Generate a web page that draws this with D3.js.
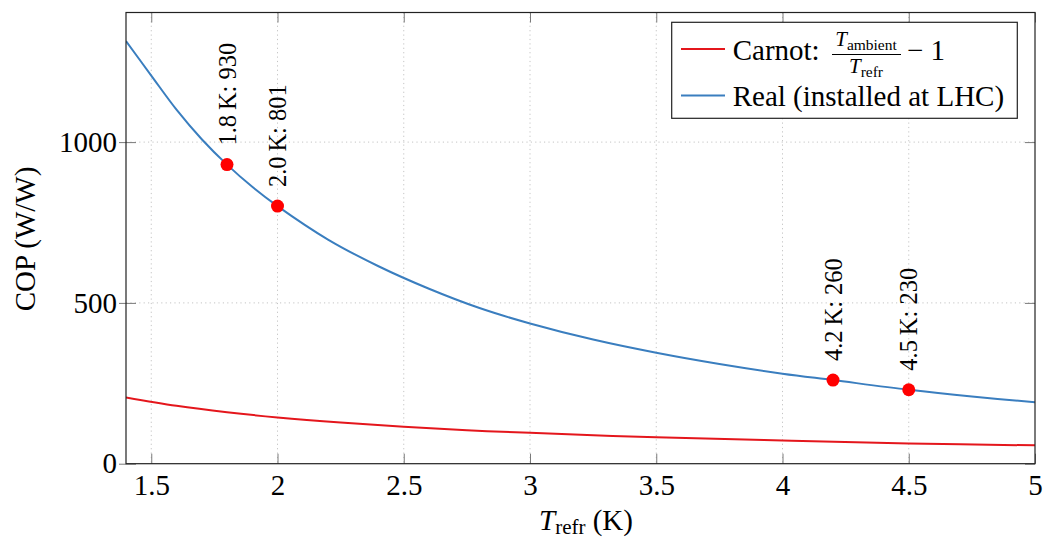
<!DOCTYPE html>
<html>
<head>
<meta charset="utf-8">
<script src="https://cdn.jsdelivr.net/npm/d3@7"></script>
<style>
  html, body { margin: 0; padding: 0; background: #fff; }
  svg, svg text { font-family: "Liberation Serif", "Times New Roman", Times, "DejaVu Serif", serif !important; }
</style>
</head>
<body>
<svg id="chart" width="1043" height="541"></svg>
<script>
// ---- data ----
const xTicks = [1.5, 2, 2.5, 3, 3.5, 4, 4.5, 5];
const yTicks = [0, 500, 1000];

const carnotT   = [1.4, 1.6, 1.8, 2.0, 2.25, 2.5, 2.75, 3.0, 3.5, 4.0, 4.5, 5.0];
const carnotCOP = [206, 180, 160, 144, 128, 115, 104, 96, 82, 72, 63, 57];

const realT   = [1.4, 1.5, 1.6, 1.7, 1.8, 1.9, 2.0, 2.2, 2.4, 2.6, 2.8, 3.0, 3.25, 3.5, 3.75, 4.0, 4.2, 4.5, 4.75, 5.0];
const realCOP = [1314, 1207, 1101, 1009, 930, 861, 801, 697, 614, 544, 484, 436, 386, 345, 310, 280, 260, 230, 209, 191];

const pointT      = [1.8, 2.0, 4.2, 4.5];
const pointCOP    = [930, 801, 260, 230];
const pointLabels = ["1.8\u2009K: 930", "2.0\u2009K: 801", "4.2\u2009K: 260", "4.5\u2009K: 230"];

const seriesNames = ["Carnot: ", "Real (installed at LHC)"];
const seriesColors = ["#e4161c", "#3a7ebf"];

// ---- layout ----
const L = 126, R = 1035, T = 12.5, B = 463.7;
const FS = 29;
const FF = "Liberation Serif, Times New Roman, Times, DejaVu Serif, serif";

const svg = d3.select("#chart");
const x = d3.scaleLinear().domain([1.4, 5]).range([L, R]);
const y = d3.scaleLinear().domain([0, 1403]).range([B, T]);

// grid
const grid = svg.append("g").attr("stroke", "#c4c4c4").attr("stroke-width", 1)
  .attr("stroke-dasharray", "1.2,3.2");
grid.selectAll("line.gx").data(xTicks.filter(d => d < 5)).enter().append("line")
  .attr("x1", d => x(d)).attr("x2", d => x(d)).attr("y1", T).attr("y2", B);
grid.selectAll("line.gy").data(yTicks.filter(d => d > 0)).enter().append("line")
  .attr("x1", L).attr("x2", R).attr("y1", d => y(d)).attr("y2", d => y(d));

// axes
const fmt = d => String(d);
const axB = svg.append("g").attr("transform", `translate(0,${B})`)
  .call(d3.axisBottom(x).tickValues(xTicks).tickFormat(fmt).tickSizeInner(-10).tickSizeOuter(0).tickPadding(11));
const axT = svg.append("g").attr("transform", `translate(0,${T})`)
  .call(d3.axisTop(x).tickValues(xTicks).tickFormat("").tickSizeInner(-10).tickSizeOuter(0));
const axL = svg.append("g").attr("transform", `translate(${L},0)`)
  .call(d3.axisLeft(y).tickValues(yTicks).tickFormat(fmt).tickSizeInner(-10).tickSizeOuter(0).tickPadding(9));
const axR = svg.append("g").attr("transform", `translate(${R},0)`)
  .call(d3.axisRight(y).tickValues(yTicks).tickFormat("").tickSizeInner(-10).tickSizeOuter(0));

[axB, axT, axL, axR].forEach(a => {
  a.attr("font-family", FF);
  a.select(".domain").remove();
  a.selectAll(".tick line").attr("stroke", "#7a7a7a").attr("stroke-width", 1);
  a.selectAll(".tick text").attr("font-family", FF).attr("font-size", FS).attr("fill", "#000");
});
axL.selectAll(".tick line").attr("x1", -7);

// clip
svg.append("clipPath").attr("id", "clip").append("rect")
  .attr("x", L).attr("y", T).attr("width", R - L).attr("height", B - T);

const line = d3.line().curve(d3.curveCatmullRom.alpha(0.5)).x(d => x(d[0])).y(d => y(d[1]));
const plot = svg.append("g").attr("clip-path", "url(#clip)");
plot.append("path").datum(carnotT.map((t, i) => [t, carnotCOP[i]]))
  .attr("d", line).attr("fill", "none").attr("stroke", seriesColors[0]).attr("stroke-width", 2);
plot.append("path").datum(realT.map((t, i) => [t, realCOP[i]]))
  .attr("d", line).attr("fill", "none").attr("stroke", seriesColors[1]).attr("stroke-width", 2);

// points + labels
svg.selectAll("circle.pt").data(pointT).enter().append("circle")
  .attr("cx", d => x(d)).attr("cy", (d, i) => y(pointCOP[i])).attr("r", 6.5).attr("fill", "#ff0000");
svg.selectAll("text.pl").data(pointT).enter().append("text")
  .attr("transform", (d, i) => `translate(${x(d)},${y(pointCOP[i]) - 19}) rotate(-90)`)
  .attr("dominant-baseline", "central").attr("font-family", FF)
  .attr("font-size", 24.5).attr("fill", "#000")
  .text((d, i) => pointLabels[i]);

// frame
svg.append("rect").attr("x", L).attr("y", T).attr("width", R - L).attr("height", B - T)
  .attr("fill", "none").attr("stroke", "#222").attr("stroke-width", 1.2);

// axis labels
const xl = svg.append("text").attr("x", 539).attr("y", 530).attr("font-family", FF).attr("font-size", FS).attr("fill", "#000");
xl.append("tspan").attr("font-style", "italic").text("T");
xl.append("tspan").attr("font-size", 21).attr("dy", 4).text("refr");
xl.append("tspan").attr("dy", -4).text(" (K)");

svg.append("text").attr("transform", `translate(25,239) rotate(-90)`)
  .attr("text-anchor", "middle").attr("dominant-baseline", "central").attr("font-family", FF)
  .attr("font-size", FS).attr("fill", "#000").text("COP (W/W)");

// legend
const lg = svg.append("g").attr("font-family", FF);
lg.append("rect").attr("x", 671.7).attr("y", 22.3).attr("width", 345.6).attr("height", 96)
  .attr("fill", "#fff").attr("stroke", "#222").attr("stroke-width", 1.2);
const rowsY = [49, 95.5];
seriesNames.forEach((nm, i) => {
  lg.append("line").attr("x1", 681).attr("x2", 725).attr("y1", rowsY[i]).attr("y2", rowsY[i])
    .attr("stroke", seriesColors[i]).attr("stroke-width", 2);
  lg.append("text").attr("x", 732.7).attr("y", rowsY[i] + 10.5).attr("font-size", FS).attr("fill", "#000").text(nm);
});
const num = lg.append("text").attr("x", 866).attr("y", 46).attr("text-anchor", "middle").attr("font-size", 21);
num.append("tspan").attr("font-style", "italic").text("T");
num.append("tspan").attr("font-size", 15.5).attr("dy", 4).text("ambient");
lg.append("line").attr("x1", 832).attr("x2", 901).attr("y1", 54.5).attr("y2", 54.5).attr("stroke", "#000").attr("stroke-width", 1);
const den = lg.append("text").attr("x", 866).attr("y", 73).attr("text-anchor", "middle").attr("font-size", 21);
den.append("tspan").attr("font-style", "italic").text("T");
den.append("tspan").attr("font-size", 15.5).attr("dy", 4).text("refr");
lg.append("text").attr("x", 907).attr("y", 59.5).attr("font-size", FS).attr("fill", "#000").text("\u2212 1");
</script>
</body>
</html>
